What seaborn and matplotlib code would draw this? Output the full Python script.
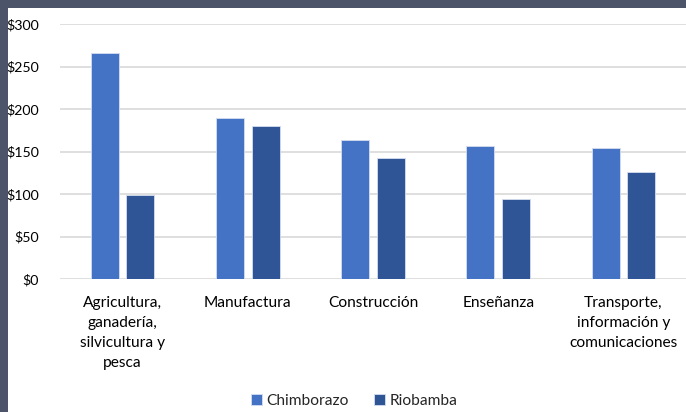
import matplotlib
matplotlib.use("Agg")
import matplotlib.pyplot as plt
import seaborn as sns
import pandas as pd
from matplotlib.patches import Rectangle
from matplotlib.ticker import FuncFormatter

categories = ["Agricultura,\nganadería,\nsilvicultura y\npesca", "Manufactura",
              "Construcción", "Enseñanza", "Transporte,\ninformación y\ncomunicaciones"]
chimborazo = [266, 190, 164, 157, 154]
riobamba = [99, 180, 142, 94, 126]
series = ["Chimborazo", "Riobamba"]
colors = ["#4472C4", "#2F5597"]

df = pd.DataFrame({
    "cat": categories * 2,
    "val": chimborazo + riobamba,
    "serie": [series[0]] * 5 + [series[1]] * 5,
})

sns.set_theme(style="white")
plt.rcParams['font.family'] = ['Lato', 'DejaVu Sans']

fig = plt.figure(figsize=(6.86, 4.12), dpi=100)
fig.patch.set_facecolor("#4B5468")
fig.patches.append(Rectangle((8/686, 0), 1, 1 - 8/412, transform=fig.transFigure,
                             facecolor="white", edgecolor="none", zorder=-10))
ax = fig.add_axes([60/686, 1 - 279/412, 626/686, 255/412])
ax.set_facecolor("none")

sns.barplot(data=df, x="cat", y="val", hue="serie", palette=colors, ax=ax,
            width=0.567, gap=0.21, edgecolor="#D5DEF0", linewidth=0.6,
            saturation=1, errorbar=None, zorder=3)

ax.set_ylim(0, 300)
ax.set_yticks(range(0, 301, 50))
ax.yaxis.set_major_formatter(FuncFormatter(lambda v, p: f"${int(v)}"))
ax.grid(axis="y", color="#D9D9D9", linewidth=1.2, zorder=0)
ax.set_axisbelow(True)
for s in ax.spines.values():
    s.set_visible(False)
ax.tick_params(axis="y", length=0, pad=15, labelsize=10.2, labelcolor="#000000")
ax.tick_params(axis="x", length=0, pad=12, labelsize=11.2, labelcolor="#000000")
for t in ax.get_xticklabels():
    t.set_linespacing(1.56)
    t.set_verticalalignment("top")
ax.set_xlabel("")
ax.set_ylabel("")

leg = ax.legend(loc="upper center", bbox_to_anchor=(0.47, -0.395), ncol=2, frameon=False,
                fontsize=11.2, handlelength=0.7, handleheight=0.7, handletextpad=0.3,
                columnspacing=1.6)

fig.savefig("out.png", dpi=100, facecolor=fig.get_facecolor())
